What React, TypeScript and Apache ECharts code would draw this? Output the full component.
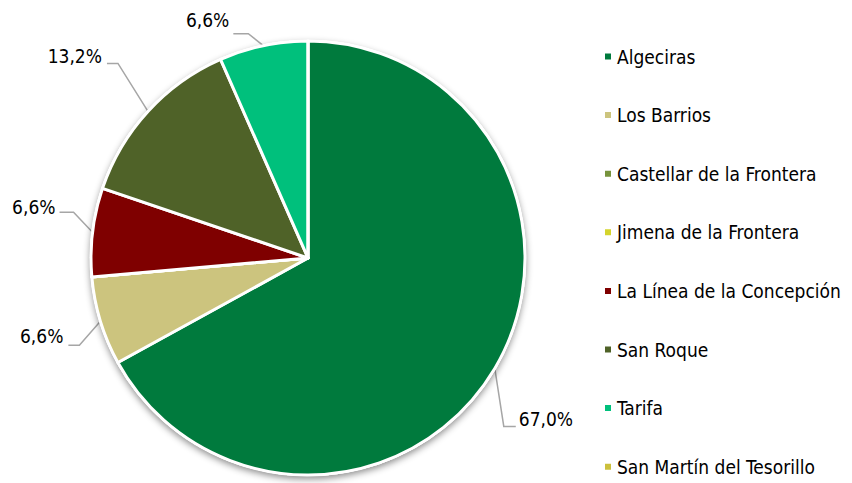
import React, { useEffect, useRef } from "react";
import * as echarts from "echarts";

const categories = [
  "Algeciras",
  "Los Barrios",
  "Castellar de la Frontera",
  "Jimena de la Frontera",
  "La Línea de la Concepción",
  "San Roque",
  "Tarifa",
  "San Martín del Tesorillo",
];
const shares = [67.0, 6.6, 0, 0, 6.6, 13.2, 6.6, 0];
const colors = [
  "#007A3D",
  "#CCC47E",
  "#77933C",
  "#D4D42C",
  "#7F0000",
  "#4F6228",
  "#00C07C",
  "#CCC03C",
];

// label placement (offsets from the slice's outer edge point)
const labelGuides: Record<number, { elbow: [number, number]; run: number; gap: number; dy: number; side: number }> = {
  0: { elbow: [9, 58], run: 12, gap: 15, dy: -7, side: 1 },
  1: { elbow: [-21, 24], run: 11, gap: 16, dy: -9, side: -1 },
  4: { elbow: [-19, -20], run: 14, gap: 18, dy: -5, side: -1 },
  5: { elbow: [-30, -48], run: 11, gap: 16, dy: -7, side: -1 },
  6: { elbow: [-15, -12], run: 15, gap: 19, dy: -13.5, side: -1 },
};

const FONT = "'DejaVu Sans Condensed', 'DejaVu Sans', sans-serif";
const FS = 19;
const fmt = (v: number) => v.toFixed(1).replace(".", ",") + "%";

export default function App() {
  const ref = useRef<HTMLDivElement>(null);
  useEffect(() => {
    if (!ref.current) return;
    const chart = echarts.init(ref.current, null, { renderer: "svg" });
    const center = [308, 258];
    chart.setOption({
      animation: false,
      backgroundColor: "#ffffff",
      legend: {
        orient: "vertical",
        left: 603,
        top: 46.5,
        padding: 0,
        icon: "rect",
        itemWidth: 8,
        itemHeight: 8,
        itemGap: 38.6,
        selectedMode: false,
        data: categories,
        textStyle: { fontFamily: FONT, fontSize: FS, color: "#000", lineHeight: 20 },
      },
      series: [
        {
          type: "pie",
          silent: true,
          center,
          radius: 218,
          startAngle: 90,
          label: { show: false },
          labelLine: { show: false },
          itemStyle: {
            color: "#ffffff",
            shadowBlur: 7,
            shadowColor: "rgba(0,0,0,0.45)",
            shadowOffsetX: 0,
            shadowOffsetY: 3,
          },
          data: [{ name: "_shadow", value: 1 }],
        },
        {
          type: "pie",
          center,
          radius: 217,
          startAngle: 90,
          clockwise: true,
          avoidLabelOverlap: false,
          itemStyle: { borderColor: "#ffffff", borderWidth: 3 },
          label: {
            show: true,
            position: "outside",
            fontFamily: FONT,
            fontSize: FS,
            color: "#000",
            formatter: (p: any) => fmt(p.value),
          },
          labelLine: {
            show: true,
            length: 20,
            length2: 10,
            lineStyle: { color: "#A6A6A6", width: 1.5 },
          },
          labelLayout: (params: any) => {
            const g = labelGuides[params.dataIndex];
            const pts = params.labelLinePoints;
            if (!g || !pts) return {};
            const p0 = pts[0];
            const ex = p0[0] + g.elbow[0];
            const ey = p0[1] + g.elbow[1];
            return {
              x: ex + g.side * g.gap,
              y: ey + g.dy,
              align: g.side < 0 ? "right" : "left",
              verticalAlign: "middle",
              labelLinePoints: [
                [p0[0], p0[1]],
                [ex, ey],
                [ex + g.side * g.run, ey],
              ],
            };
          },
          data: categories.map((name, i) => ({
            name,
            value: shares[i],
            itemStyle: { color: colors[i] },
            label: { show: shares[i] > 0 },
            labelLine: { show: shares[i] > 0 },
          })),
        },
      ],
    });
    return () => chart.dispose();
  }, []);
  return (
    <div
      ref={ref}
      style={{ position: "fixed", left: 0, top: 0, width: 852, height: 483 }}
    />
  );
}
